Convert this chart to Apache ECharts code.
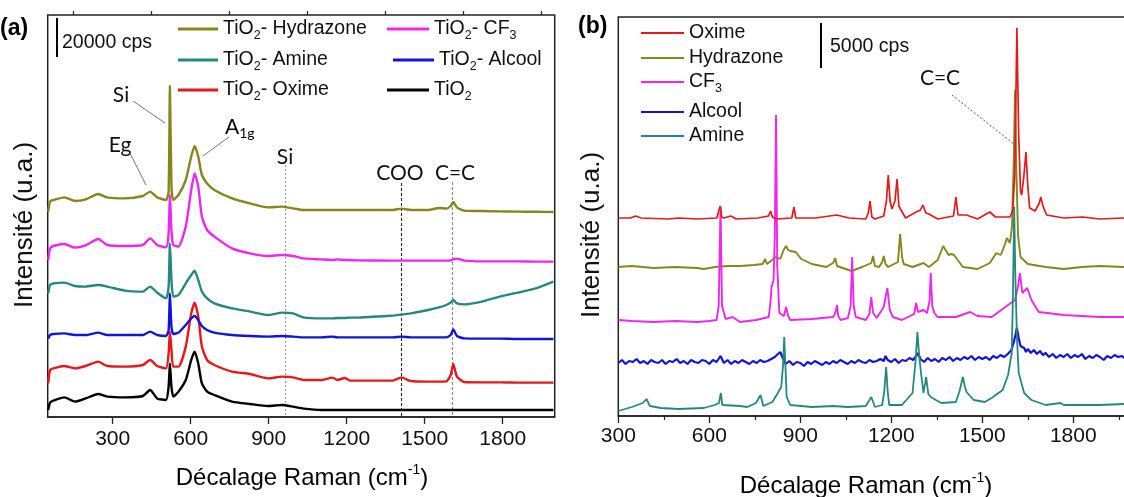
<!DOCTYPE html>
<html><head><meta charset="utf-8">
<script src="https://cdn.jsdelivr.net/npm/echarts/dist/echarts.min.js"></script>
<style>html,body{margin:0;padding:0;background:#fff}#c{width:1124px;height:497px}</style>
</head><body><div id="c"></div>
<script>
// ---------- Panel (a) data: Raman shift (cm-1) and stacked intensities (kcps, offset as drawn) ----------
const ramanA = [52,59,72,114,155,196,244,279,347,416, 444,471,505,515,520,526,533,553,581,602,
  615,629,643,663,691,759,828,897,951,993, 1034,1103,1144,1165,1192,1213,1240,1377,1411,1446,
  1514,1555,1583,1600,1610,1624,1652,1720,1789,1858, 1927,1995];
const aHydrazone = [102.7,107.7,108.5,109.8,108,108.8,111.5,109.8,109.3,110.5, 112.7,109.8,108.5,112.7,165.5,115.2,108.5,111,118.5,130.2,
  135.5,130.2,121,116.8,113.5,109.3,106.8,104.8,105.2,104.3, 103.5,103.5,103.5,103.5,103.5,103.5,103.5,103.5,104.2,103.5,
  103.5,104.5,104.2,105.5,107.5,104.8,103.2,103,102.8,102.7, 102.6,102.5];
const aCF3 = [78.5,84.3,85.5,86.5,84.7,85.8,89,86,85.5,86, 89.3,86,84.8,91.8,111,93.5,86,85.2,95.2,113.5,
  121.8,115.2,100.2,93.5,90.2,84.3,81.8,80.5,81,80.5, 79.3,78.8,78.5,78.8,78.5,78.5,78.3,78.2,78.2,78.2,
  78.2,78.2,78.2,78.3,78.8,79.2,78.2,77.8,77.8,77.8, 77.7,77.7];
const aAmine = [61.8,66,66.8,67.2,65.5,65.2,66,65.2,63.2,62.7, 65.2,62.2,59.3,65.2,86.8,68.5,60.2,61,66.8,71,
  73.2,68.5,62.7,59.3,56.8,54.3,52.7,51,52.2,51.8, 49.8,49.3,49.3,49.5,49.5,49.7,49.7,50.7,51.2,51.8,
  53.5,54.8,56,57.2,58.5,56.8,56.3,57.7,60.2,62.2, 64.3,67.7];
const aAlcool = [39.3,41,41.5,41.8,41,41,42.2,41,41,41, 42.7,41,40.5,43.5,61.8,45.2,41.5,42.2,46,49.3,
  50.5,48.5,45.5,43.5,42.2,41,40.5,40.2,40.5,40.2, 39.8,39.8,40.2,39.8,39.8,39.8,39.8,39.8,40.2,39.8,
  39.8,39.8,39.8,41,43.8,40.5,39.3,39.2,39.2,39, 39,39];
const aOxime = [16.8,23.5,24.3,25.5,24.3,25.5,27.7,25.5,25.2,26, 28.5,25.5,24.3,31.8,42.7,33.5,25.2,25.2,35.2,51.8,
  57.2,50.2,35.2,28.5,26,22.7,21.5,19.3,20.2,19.8, 18.5,18.5,19.7,18.5,19.5,18.2,18.2,18.2,19.8,18,
  17.7,17.7,17.8,21,26.5,20.2,17.5,17.3,17.3,17.2, 17.2,17.2];
const aTiO2 = [3.5,7.2,8.2,9.8,7.7,9.3,11.5,10.2,9.8,10.5, 13.5,9.3,8.5,15.2,26.8,15,10.2,12.7,18.5,28.5,
  32.7,26.8,16.8,12.7,11,7.7,6.5,5.5,6,5.2, 4.2,3.5,3.5,3.5,3.5,3.5,3.5,3.5,3.5,3.5,
  3.5,3.5,3.5,3.5,3.5,3.5,3.5,3.5,3.5,3.5, 3.5,3.5];
const ticksA = [300,600,900,1200,1500,1800];
const minorTicksA = [150,450,750,1050,1350,1650,1950];

// ---------- Panel (b) data: [Raman shift, intensity (kcps, offset as drawn)] ----------
const bOxime = [[300,19.8],[340,19.8],[357,20.0],[375,19.8],[464,19.7],[499,19.8],[560,19.7],[625,19.8],[631,20.5],[636,21.0],[641,19.9],[648,19.8],[671,20.0],[689,19.7],[760,19.8],[795,20.0],[802,20.5],[808,19.9],[820,19.7],[872,19.8],[879,20.9],[885,19.8],[950,19.8],[997,20.0],[1021,20.1],[1060,19.8],[1116,19.7],[1124,20.3],[1130,21.5],[1136,19.9],[1146,19.7],[1175,20.0],[1184,21.5],[1190,24.1],[1196,21.5],[1202,20.7],[1212,21.5],[1219,23.7],[1225,21.0],[1232,20.6],[1247,19.8],[1282,20.4],[1296,20.6],[1304,21.1],[1314,20.3],[1324,20.2],[1353,19.7],[1405,20.0],[1413,21.9],[1420,20.1],[1448,20.1],[1484,19.7],[1525,20.4],[1543,19.9],[1591,19.9],[1600,20.5],[1607,24],[1614,38.8],[1620,28],[1626,22.5],[1630,22.1],[1637,24],[1644,26.4],[1650,23],[1656,20.8],[1674,20.5],[1688,21.3],[1693,21.9],[1700,21.0],[1712,20.1],[1769,19.8],[1830,19.9],[1887,19.7],[1968,19.8]];
const bHydrazone = [[300,14.9],[345,15.0],[380,14.9],[416,14.8],[487,14.9],[560,14.8],[582,14.7],[618,14.9],[660,15.0],[701,15.0],[748,15.1],[776,15.2],[784,15.7],[790,15.2],[796,15.1],[820,15.9],[834,15.7],[845,16.6],[853,17.0],[860,16.6],[867,16.5],[885,16.4],[903,15.7],[938,15.2],[986,14.9],[1008,15.3],[1015,15.8],[1021,15.0],[1027,14.9],[1069,14.5],[1104,14.9],[1134,15.3],[1140,16.0],[1146,15.0],[1160,14.9],[1170,15.4],[1175,16.0],[1181,15.2],[1190,14.9],[1222,15.4],[1229,18.2],[1236,15.8],[1241,15.2],[1270,14.9],[1306,15.3],[1324,14.9],[1353,15.6],[1371,17.0],[1389,16.1],[1398,16.2],[1407,16.1],[1419,15.6],[1436,14.9],[1484,14.7],[1525,15.3],[1546,16.3],[1561,16.1],[1575,17.2],[1581,17.8],[1591,17.3],[1598,19],[1604,26],[1608,32.6],[1612,25],[1618,18],[1626,15.9],[1650,15.2],[1709,14.9],[1769,14.7],[1828,14.9],[1887,15.0],[1968,14.9]];
const bCF3 = [[300,9.6],[345,9.5],[416,9.4],[487,9.5],[560,9.4],[600,9.5],[624,9.6],[631,11],[637,20.9],[642,11],[654,9.7],[677,9.9],[701,9.4],[754,9.6],[796,9.9],[802,11.5],[805,12.9],[812,13.6],[816,18],[820,30.1],[824,15],[831,10.3],[846,10.0],[853,10.9],[860,10.0],[867,9.6],[938,9.7],[1009,9.9],[1017,10.5],[1021,11.1],[1025,10.0],[1033,9.6],[1057,9.8],[1066,11],[1071,15.9],[1076,11],[1083,9.9],[1116,9.6],[1128,10.2],[1134,11.9],[1140,10.3],[1152,9.8],[1175,10.9],[1187,12.8],[1195,10.6],[1205,9.9],[1235,9.6],[1275,10.2],[1282,11.3],[1288,10.4],[1294,10.3],[1306,10.6],[1318,10.3],[1326,11.5],[1330,14.3],[1335,11],[1342,10.3],[1353,9.9],[1413,9.9],[1460,10.4],[1484,10.0],[1531,9.9],[1585,11.1],[1608,11.6],[1618,13],[1624,14.3],[1632,12.3],[1638,12.3],[1648,12.8],[1662,11.6],[1686,10.4],[1769,10.1],[1887,9.9],[1968,9.9]];
const bAlcool = [[300,5.3],[312,5.6],[324,5.2],[336,5.5],[348,5.4],[360,5.7],[372,5.3],[384,5.5],[396,5.2],[408,5.6],[420,5.4],[432,5.3],[444,5.6],[456,5.2],[468,5.5],[480,5.4],[492,5.7],[504,5.3],[516,5.5],[528,5.2],[540,5.6],[552,5.4],[564,5.3],[576,5.6],[588,5.5],[600,5.2],[612,5.6],[624,5.4],[637,6.0],[648,5.3],[660,5.6],[672,5.2],[684,5.5],[696,5.3],[708,5.6],[720,5.4],[732,5.2],[744,5.5],[756,5.3],[768,5.6],[780,5.4],[792,5.5],[804,5.7],[816,5.9],[826,6.2],[834,6.4],[842,5.8],[852,5.2],[864,5.5],[876,5.1],[888,5.4],[900,5.3],[912,5.0],[924,5.4],[936,5.2],[948,5.5],[960,5.3],[972,5.1],[984,5.4],[996,5.2],[1008,5.5],[1020,5.3],[1032,5.6],[1044,5.4],[1056,5.2],[1068,5.5],[1080,5.3],[1092,5.6],[1104,5.4],[1116,5.3],[1128,5.6],[1140,5.4],[1152,5.5],[1164,5.7],[1175,5.5],[1181,6.0],[1188,5.6],[1200,5.4],[1212,5.7],[1224,5.3],[1236,5.6],[1248,5.5],[1260,5.8],[1272,5.6],[1282,6.0],[1288,6.3],[1296,5.7],[1308,5.4],[1320,5.8],[1332,5.5],[1344,5.7],[1356,5.4],[1368,5.8],[1380,5.6],[1392,5.9],[1404,5.5],[1416,5.8],[1428,5.6],[1440,5.9],[1452,5.7],[1464,6.0],[1476,5.6],[1488,5.9],[1500,5.7],[1512,5.9],[1524,5.6],[1536,6.0],[1548,5.8],[1560,6.1],[1572,5.9],[1584,6.2],[1596,6.6],[1604,7.4],[1610,8.2],[1614,8.8],[1620,7.8],[1626,7.0],[1632,6.9],[1638,6.8],[1644,6.4],[1650,6.7],[1660,6.3],[1670,6.6],[1680,6.2],[1690,6.5],[1700,6.1],[1709,6.3],[1720,5.9],[1732,6.2],[1744,5.8],[1756,6.1],[1768,5.9],[1780,6.2],[1792,5.8],[1804,6.1],[1816,5.9],[1828,6.2],[1840,5.7],[1852,6.0],[1864,5.8],[1876,6.1],[1888,5.9],[1900,5.6],[1912,6.0],[1924,5.8],[1936,6.1],[1948,5.9],[1960,6.0],[1968,5.8]];
const bAmine = [[300,0.5],[345,0.9],[381,1.3],[393,1.7],[404,1.0],[440,0.8],[499,0.7],[582,0.8],[618,1.1],[632,1.3],[638,2.3],[643,1.1],[648,0.9],[701,1.0],[725,0.9],[754,1.3],[769,2.1],[778,1.0],[808,1.4],[826,2.3],[837,2.9],[843,5],[847,7.9],[851,5],[855,1.9],[867,1.1],[938,0.9],[1009,1.0],[1057,0.9],[1116,1.0],[1134,1.9],[1146,0.9],[1170,1.1],[1177,2.5],[1183,4.9],[1188,2.5],[1193,1.1],[1235,1.1],[1270,2.3],[1280,5.5],[1286,8.4],[1292,6],[1298,4.3],[1306,2.3],[1315,3.9],[1322,2.2],[1330,1.9],[1347,1.6],[1365,1.3],[1413,1.4],[1425,2.5],[1436,3.9],[1442,3],[1448,2.4],[1472,1.6],[1508,1.4],[1531,1.8],[1567,2.6],[1585,4.1],[1597,6.3],[1601,12],[1605,20.9],[1609,14],[1614,8],[1620,4.3],[1638,2.3],[1662,1.6],[1709,1.1],[1757,1.3],[1769,1.1],[1887,1.1],[1968,1.2]];

const namesA = ['TiO2- Hydrazone','TiO2- CF3','TiO2- Amine','TiO2- Alcool','TiO2- Oxime','TiO2'];
const namesB = ['Oxime','Hydrazone','CF3','Alcool','Amine'];
const C = {olive:'#86861c', magenta:'#f026ee', teal:'#25887f', blue:'#1414d6', red:'#e4191c', black:'#000000'};

const chart = echarts.init(document.getElementById('c'), null, {renderer:'canvas'});
const FONT = 'Liberation Sans, Arial, sans-serif';
const ANN = 'Lato, Liberation Sans, sans-serif';
const zip = (xs, ys) => xs.map((x, i) => [x, ys[i]]);

const legRich = {
  n:{fontSize:19.5, lineHeight:26, fontFamily:FONT, color:'#111'},
  s:{fontSize:12.5, lineHeight:10, verticalAlign:'bottom', fontFamily:FONT, color:'#111'}
};
const legFmt = {
  'TiO2- Hydrazone':'{n|TiO}{s|2}{n|- Hydrazone}', 'TiO2- CF3':'{n|TiO}{s|2}{n|- CF}{s|3}',
  'TiO2- Amine':'{n|TiO}{s|2}{n|- Amine}', 'TiO2- Alcool':'{n|TiO}{s|2}{n|- Alcool}',
  'TiO2- Oxime':'{n|TiO}{s|2}{n|- Oxime}', 'TiO2':'{n|TiO}{s|2}',
  'Oxime':'{n|Oxime}','Hydrazone':'{n|Hydrazone}','CF3':'{n|CF}{s|3}','Alcool':'{n|Alcool}','Amine':'{n|Amine}'
};
function leg(name, left, cy, w, h){
  return {show:true, left:left, top:cy-13, data:[name], icon:'rect', itemWidth:w, itemHeight:h, itemGap:0,
    selectedMode:false, orient:'horizontal', padding:0,
    formatter:(nm)=>legFmt[nm], textStyle:{rich:legRich}};
}

const seriesA = [
  {name:namesA[5], data:zip(ramanA,aTiO2), color:C.black},
  {name:namesA[4], data:zip(ramanA,aOxime), color:C.red},
  {name:namesA[3], data:zip(ramanA,aAlcool), color:C.blue},
  {name:namesA[2], data:zip(ramanA,aAmine), color:C.teal},
  {name:namesA[1], data:zip(ramanA,aCF3), color:C.magenta},
  {name:namesA[0], data:zip(ramanA,aHydrazone), color:C.olive}
].map(s => ({type:'line', name:s.name, data:s.data, xAxisIndex:0, yAxisIndex:0, showSymbol:false, symbol:'none',
  smooth:0.2, color:s.color, lineStyle:{width:2.4, color:s.color}, animation:false, z:3}));

seriesA[0].markLine = {symbol:'none', silent:true, animation:false, label:{show:false}, z:1, data:[
  [{coord:[965,126], lineStyle:{type:[2,2], color:'#9a9a9a', width:1.2}}, {coord:[965,0]}],
  [{coord:[1409,117], lineStyle:{type:[3,2], color:'#222', width:1.1}}, {coord:[1409,0]}],
  [{coord:[1605,117.5], lineStyle:{type:[3,2], color:'#888', width:1.1}}, {coord:[1605,0]}],
  [{coord:[378,158], lineStyle:{type:'solid', color:'#666', width:0.9}}, {coord:[501,147]}],
  [{coord:[366,132], lineStyle:{type:'solid', color:'#666', width:0.9}}, {coord:[428,116]}],
  [{coord:[747,140], lineStyle:{type:'solid', color:'#666', width:0.9}}, {coord:[647,130.5]}]
]};

const bDefs = [
  {name:'Hydrazone', data:bHydrazone, color:C.olive, w:1.9},
  {name:'CF3', data:bCF3, color:C.magenta, w:1.9},
  {name:'Alcool', data:bAlcool, color:C.blue, w:2.2},
  {name:'Amine', data:bAmine, color:C.teal, w:1.8},
  {name:'Oxime', data:bOxime, color:C.red, w:1.7}
];
const seriesB = bDefs.map(s => ({type:'line', name:s.name, data:s.data, xAxisIndex:2, yAxisIndex:1, showSymbol:false,
  symbol:'none', color:s.color, lineStyle:{width:s.w, color:s.color}, animation:false, z:3}));
seriesB[4].markLine = {symbol:'none', silent:true, animation:false, label:{show:false}, data:[
  [{coord:[1400,32.1], lineStyle:{type:[2,2], color:'#555', width:1}}, {coord:[1608,27.1]}]
]};

const plain = v => String(v);
const axisLbl = {color:'#111', fontFamily:FONT, fontSize:21, formatter:plain};
const option = {
  backgroundColor:'#fff',
  animation:false,
  grid:[
    {left:47.7, top:15, width:507, height:402, show:true, borderColor:'#222', borderWidth:1.5, backgroundColor:'transparent', outerBoundsMode:'none', containLabel:false},
    {left:618.3, top:17, width:546, height:399, show:true, borderColor:'#222', borderWidth:1.5, backgroundColor:'transparent', outerBoundsMode:'none', containLabel:false}
  ],
  xAxis:[
    {gridIndex:0, type:'value', min:50, max:2000, axisLine:{lineStyle:{color:'#222', width:1.5}},
     axisTick:{show:true, inside:false, length:7, customValues:ticksA, lineStyle:{color:'#222', width:1.3}},
     axisLabel:{...axisLbl, margin:12, customValues:ticksA}, splitLine:{show:false}},
    {gridIndex:0, type:'value', min:50, max:2000, axisLine:{show:false},
     axisTick:{show:true, inside:false, length:4, customValues:minorTicksA, lineStyle:{color:'#222', width:1.2}},
     axisLabel:{show:false}, splitLine:{show:false}},
    {gridIndex:1, type:'value', min:300, max:2100, interval:300, axisLine:{lineStyle:{color:'#222', width:1.5}},
     axisTick:{show:true, inside:false, length:7, lineStyle:{color:'#222', width:1.3}},
     minorTick:{show:true, splitNumber:2, length:4, lineStyle:{color:'#222', width:1.2}},
     axisLabel:{...axisLbl, margin:10}, splitLine:{show:false}}
  ],
  yAxis:[
    {gridIndex:0, type:'value', min:0, max:201, show:false},
    {gridIndex:1, type:'value', min:0, max:39.9, show:false}
  ],
  legend:[
    leg(namesA[0],178,32,40,3), leg(namesA[1],387,32,42,3),
    leg(namesA[2],178,63,40,3), leg(namesA[3],393,63,41,3),
    leg(namesA[4],178,93,40,3), leg(namesA[5],387,93,42,3),
    leg('Oxime',641,36,43,2), leg('Hydrazone',641,61,43,2), leg('CF3',641,85,43,2),
    leg('Alcool',641,115,43,2), leg('Amine',641,139,43,2)
  ],
  series: seriesA.concat(seriesB),
  graphic:[
    {type:'text', left:0, top:17, style:{text:'(a)', font:'bold 23px '+FONT, fill:'#000'}},
    {type:'text', left:578, top:15, style:{text:'(b)', font:'bold 23px '+FONT, fill:'#000'}},
    {type:'line', shape:{x1:57, y1:18, x2:57, y2:57}, style:{stroke:'#000', lineWidth:2}},
    {type:'text', x:62, y:43, style:{text:'20000 cps', font:'19.5px '+FONT, fill:'#111', textVerticalAlign:'middle'}},
    {type:'line', shape:{x1:821, y1:23, x2:821, y2:68}, style:{stroke:'#000', lineWidth:2}},
    {type:'text', x:830, y:47, style:{text:'5000 cps', font:'19.5px '+FONT, fill:'#111', textVerticalAlign:'middle'}},
    {type:'text', x:121, y:95, style:{text:'Si', font:'21px '+ANN, fill:'#111', textAlign:'center', textVerticalAlign:'middle'}},
    {type:'text', x:120, y:145, style:{text:'Eg', font:'21px '+ANN, fill:'#111', textAlign:'center', textVerticalAlign:'middle'}},
    {type:'text', x:225, y:127, style:{text:'{a|A}{s|1g}', textVerticalAlign:'middle',
      rich:{a:{fontSize:21, fontFamily:ANN, lineHeight:26, color:'#111'}, s:{fontSize:14, fontFamily:ANN, lineHeight:10, verticalAlign:'bottom', color:'#111'}}}},
    {type:'text', x:285, y:157, style:{text:'Si', font:'21px '+ANN, fill:'#111', textAlign:'center', textVerticalAlign:'middle'}},
    {type:'text', x:400, y:173, style:{text:'COO', font:'21px '+ANN, fill:'#111', textAlign:'center', textVerticalAlign:'middle'}},
    {type:'text', x:455, y:173, style:{text:'C=C', font:'21px '+ANN, fill:'#111', textAlign:'center', textVerticalAlign:'middle'}},
    {type:'text', x:940, y:78, style:{text:'C=C', font:'21px '+ANN, fill:'#111', textAlign:'center', textVerticalAlign:'middle'}},
    {type:'text', x:25, y:225, rotation:Math.PI/2, style:{text:'Intensité (u.a.)', font:'26px '+FONT, fill:'#111', textAlign:'center', textVerticalAlign:'middle'}},
    {type:'text', x:592, y:235, rotation:Math.PI/2, style:{text:'Intensité (u.a.)', font:'26px '+FONT, fill:'#111', textAlign:'center', textVerticalAlign:'middle'}},
    {type:'text', x:302, y:478, style:{text:'{t|Décalage Raman (cm}{u|-1}{t|)}', textAlign:'center', textVerticalAlign:'middle',
      rich:{t:{fontSize:24, fontFamily:FONT, lineHeight:30, color:'#111'}, u:{fontSize:14, fontFamily:FONT, lineHeight:14, verticalAlign:'top', color:'#111'}}}},
    {type:'text', x:866, y:486, style:{text:'{t|Décalage Raman (cm}{u|-1}{t|)}', textAlign:'center', textVerticalAlign:'middle',
      rich:{t:{fontSize:24, fontFamily:FONT, lineHeight:30, color:'#111'}, u:{fontSize:14, fontFamily:FONT, lineHeight:14, verticalAlign:'top', color:'#111'}}}}
  ]
};
chart.setOption(option);
</script></body></html>
